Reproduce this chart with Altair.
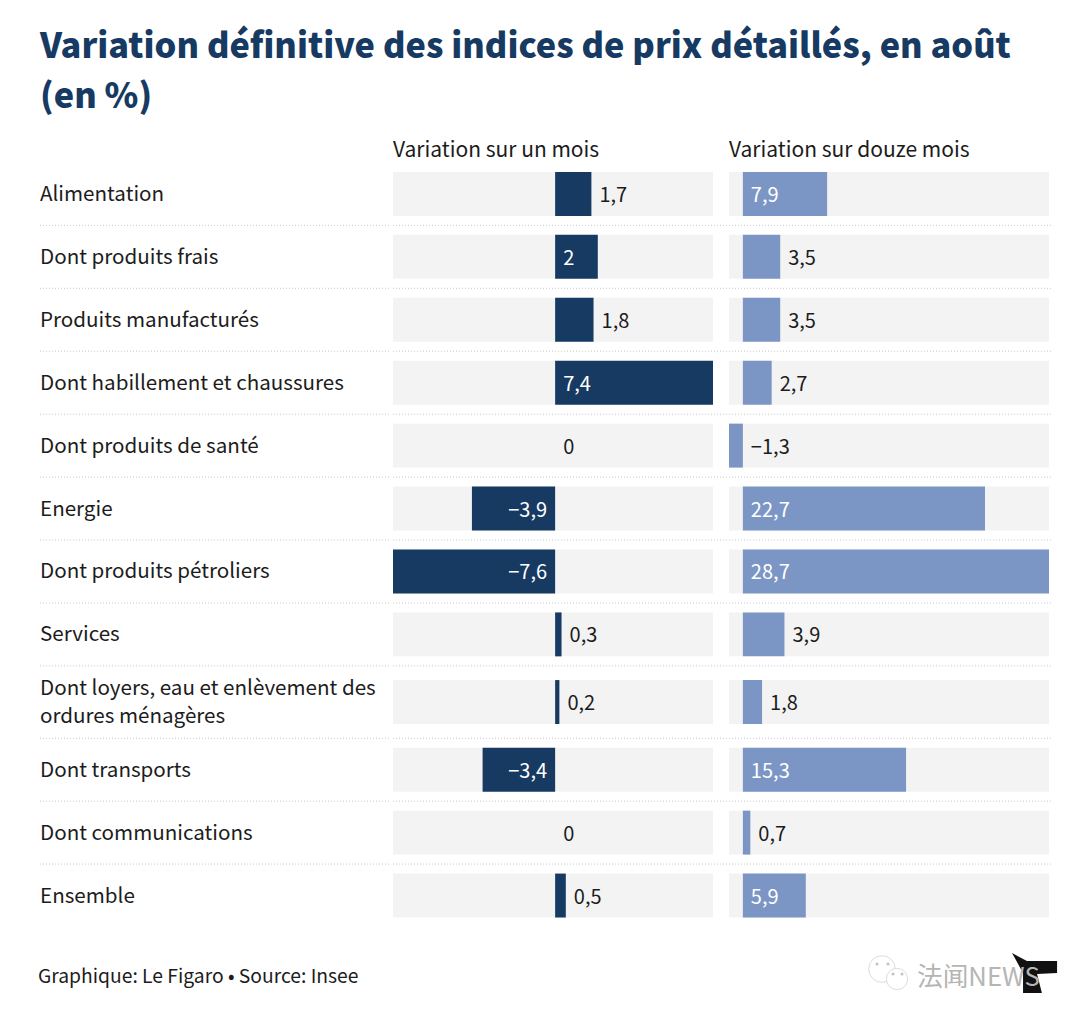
import altair as alt
import pandas as pd

FONT = "Noto Sans CJK JP"
NAVY = "#173a63"
BLUE = "#7b96c5"
INK = "#1c1c1c"

categories = ["Alimentation", "Dont produits frais", "Produits manufacturés",
              "Dont habillement et chaussures", "Dont produits de santé", "Energie",
              "Dont produits pétroliers", "Services",
              "Dont loyers, eau et enlèvement des\nordures ménagères", "Dont transports",
              "Dont communications", "Ensemble"]
month_values = [1.7, 2, 1.8, 7.4, 0, -3.9, -7.6, 0.3, 0.2, -3.4, 0, 0.5]
year_values = [7.9, 3.5, 3.5, 2.7, -1.3, 22.7, 28.7, 3.9, 1.8, 15.3, 0.7, 5.9]
row_heights = [1, 1, 1, 1, 1, 1, 1, 1, 1.15, 1, 1, 1]
title_lines = ["Variation définitive des indices de prix détaillés, en août", "(en %)"]

BAR_HALF = 22 / 63
edges = [0]
for h in row_heights:
    edges.append(edges[-1] + h)
TOTAL = edges[-1]
Y_DOM = [-0.484, TOTAL]


def fmt(v):
    s = f"{abs(v):g}".replace(".", ",")
    return ("\u2212" + s) if v < 0 else s


def frame(values):
    d = pd.DataFrame({"cat": categories, "v": values})
    d["mid"] = [(edges[i] + edges[i + 1]) / 2 for i in range(len(values))]
    d["top"] = d["mid"] - BAR_HALF
    d["bot"] = d["mid"] + BAR_HALF
    d["zero"] = 0
    d["lab"] = [fmt(v) for v in values]
    return d


yscale = alt.Scale(domain=Y_DOM, reverse=True, nice=False, zero=False)
Y = lambda f: alt.Y(f"{f}:Q", scale=yscale, axis=None)
rules_df = pd.DataFrame({"e": edges[1:-1]})


def rules(w):
    return alt.Chart(rules_df).mark_rule(color="#c9c9c9", strokeDash=[1, 2], strokeWidth=1).encode(
        y=Y("e"), x=alt.value(0), x2=alt.value(w + 2))


def panel(values, header, color, dom, bg_max, limit, w):
    d = frame(values)
    d["bgmin"] = dom[0]
    d["bgmax"] = bg_max
    xs = alt.Scale(domain=dom, nice=False, zero=False)
    X = lambda f: alt.X(f"{f}:Q", scale=xs, axis=None)
    base = alt.Chart(d)
    bg = base.mark_rect(color="#f3f3f3").encode(x=X("bgmin"), x2="bgmax", y=Y("top"), y2="bot")
    bar = base.mark_rect(color=color).encode(x=X("zero"), x2="v", y=Y("top"), y2="bot")
    txt = dict(font=FONT, fontSize=20, baseline="middle")
    inside_pos = d[d.v >= limit]
    inside_neg = d[d.v <= -limit]
    at_zero = d[(d.v < 0) & (d.v > -limit)]
    at_zero = pd.concat([at_zero, d[d.v == 0]])
    outside = d[(d.v > 0) & (d.v < limit)]
    layers = [
        alt.Chart(inside_pos).mark_text(color="white", align="left", dx=8, dy=2, **txt).encode(
            x=X("zero"), y=Y("mid"), text="lab:N"),
        alt.Chart(inside_neg).mark_text(color="white", align="right", dx=-8, dy=2, **txt).encode(
            x=X("zero"), y=Y("mid"), text="lab:N"),
        alt.Chart(at_zero).mark_text(color=INK, align="left", dx=8, dy=2, **txt).encode(
            x=X("zero"), y=Y("mid"), text="lab:N"),
        alt.Chart(outside).mark_text(color=INK, align="left", dx=8, dy=2, **txt).encode(
            x=X("v"), y=Y("mid"), text="lab:N"),
    ]
    head = alt.Chart(pd.DataFrame({"h": [header], "yy": [-0.18]})).mark_text(
        font=FONT, fontSize=21, color=INK, align="left", baseline="middle").encode(
        x=alt.value(0), y=Y("yy"), text="h:N")
    return alt.layer(rules(w), bg, bar, *layers, head).properties(width=w, height=795)


labels_df = frame(month_values)
label_style = dict(font=FONT, fontSize=20.6, color=INK, align="left", baseline="middle",
                   lineBreak="\n", lineHeight=28)
labels = alt.layer(
    rules(349),
    alt.Chart(labels_df[~labels_df.cat.str.contains("\n")]).mark_text(dy=1, **label_style).encode(
        x=alt.value(0), y=Y("mid"), text="cat:N"),
    alt.Chart(labels_df[labels_df.cat.str.contains("\n")]).mark_text(dy=-13.5, **label_style).encode(
        x=alt.value(0), y=Y("mid"), text="cat:N"),
).properties(width=349, height=795)

left = panel(month_values, "Variation sur un mois", NAVY, [-7.6, 7.9625], 7.4, 2, 332)
right = panel(year_values, "Variation sur douze mois", BLUE, [-1.3, 28.7], 28.7, 5, 320)

one = pd.DataFrame({"s": [1]})
eyes = pd.DataFrame({"s": [1]})
LOGO = "M-1,-.87L-.35,-.52L.96,-.52L.96,0L.09,.04L.3,.87L-.52,.87L-.52,0Z"


def dot(x, y):
    return alt.Chart(eyes).mark_point(shape="circle", size=10, color="#c4c4c4", filled=True, opacity=1).encode(
        x=alt.value(x), y=alt.value(y))


foot = alt.layer(
    alt.Chart(pd.DataFrame({"t": ["Graphique: Le Figaro \u2022 Source: Insee"]})).mark_text(
        font=FONT, fontSize=19.3, color=INK, align="left", baseline="middle").encode(
        x=alt.value(-2), y=alt.value(31), text="t:N"),
    alt.Chart(one).mark_point(shape=LOGO, size=2116, color="#111111", filled=True, opacity=1).encode(
        x=alt.value(995), y=alt.value(27)),
    alt.Chart(pd.DataFrame({"t": ["法闻NEWS"]})).mark_text(
        font=FONT, fontSize=25.7, color="#b5b5b5", align="left", baseline="middle").encode(
        x=alt.value(877), y=alt.value(32), text="t:N"),
    alt.Chart(one).mark_point(shape="circle", size=707, color="#cfcfcf", strokeWidth=1).encode(
        x=alt.value(842), y=alt.value(23)),
    alt.Chart(one).mark_point(shape="circle", size=452, color="white", filled=True, opacity=1).encode(
        x=alt.value(857), y=alt.value(33)),
    alt.Chart(one).mark_point(shape="circle", size=452, color="#cfcfcf", strokeWidth=1).encode(
        x=alt.value(857), y=alt.value(33)),
    dot(837, 18), dot(848, 18), dot(853, 28), dot(862, 28),
).properties(width=1009, height=60)

chart = alt.vconcat(
    alt.hconcat(labels, left, right, spacing=0),
    foot,
    spacing=19,
).properties(
    title=alt.TitleParams(title_lines, anchor="start", font=FONT, fontSize=34.3, fontWeight=900,
                          color=NAVY, lineHeight=50, offset=17, frame="group"),
    padding={"left": 30, "top": 22, "right": 10, "bottom": 5},
    background="white",
).configure_view(stroke=None)

chart.save("out.html", embed_options={"renderer": "svg", "actions": False})
